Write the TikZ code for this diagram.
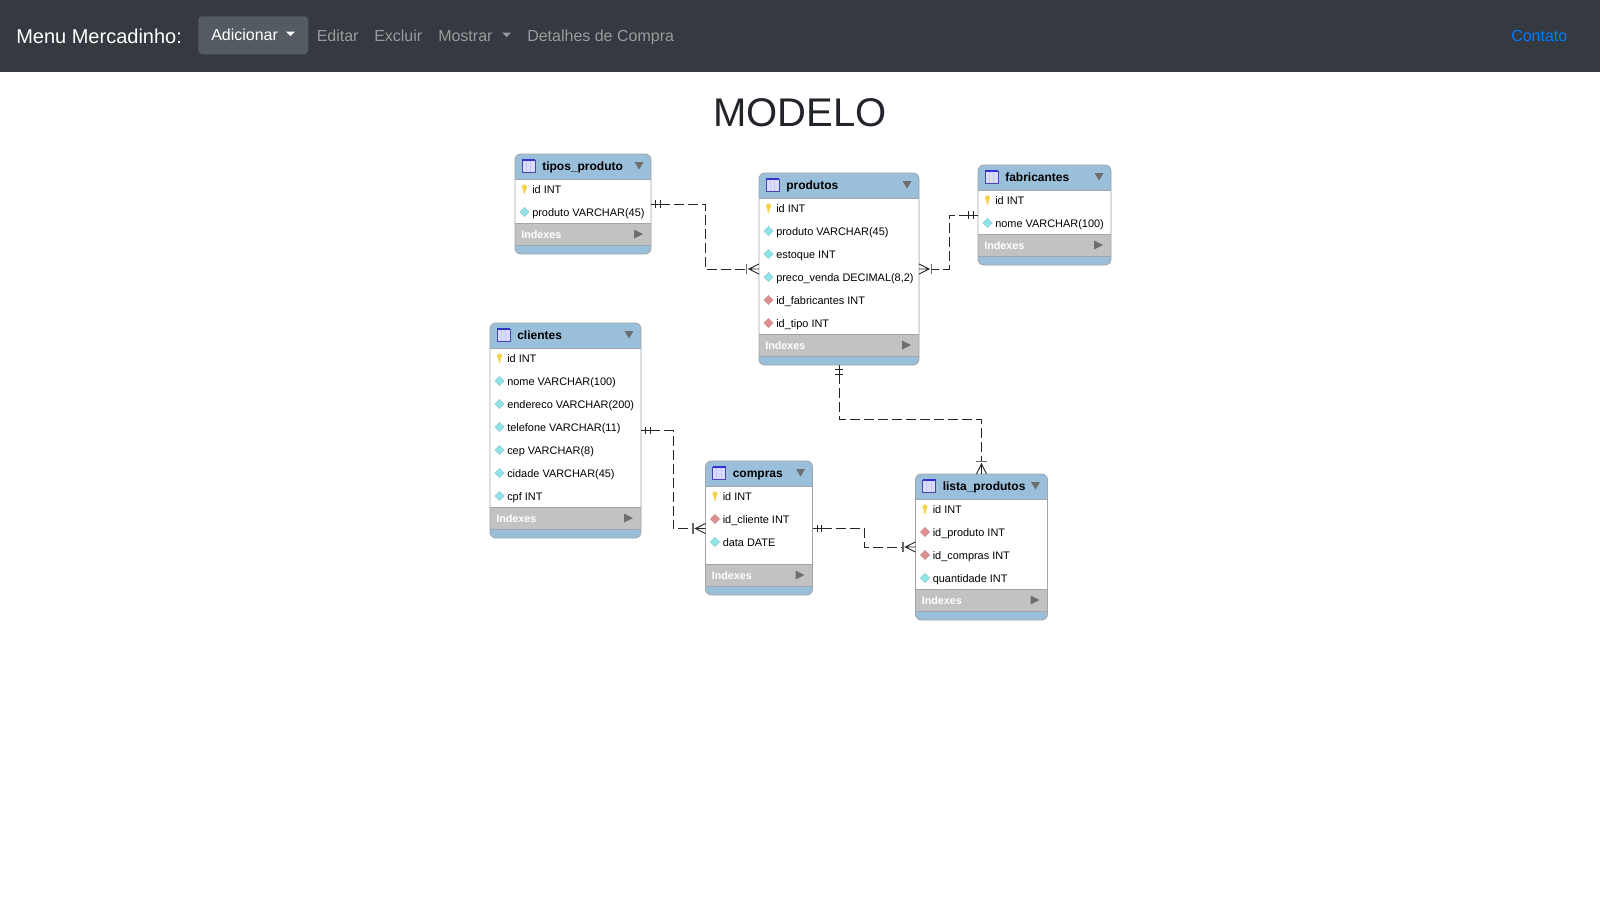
\documentclass[tikz,border=0pt]{standalone}
\usepackage{fontspec}
\setmainfont{Liberation Sans}
\usetikzlibrary{arrows.meta,shapes.geometric}

\definecolor{navdark}{HTML}{343A40}
\definecolor{navbtn}{HTML}{545B62}
\definecolor{navgray}{HTML}{989B9E}
\definecolor{navblue}{HTML}{007BFF}
\definecolor{headblue}{HTML}{9ABFDA}
\definecolor{edgegray}{HTML}{A0A6AB}
\definecolor{bandgray}{HTML}{C2C2C2}
\definecolor{arrowgray}{HTML}{6E6E6E}
\definecolor{keyyellow}{HTML}{F4D24A}
\definecolor{colcyan}{HTML}{8FE3E8}
\definecolor{colred}{HTML}{DD8F8F}
\definecolor{titledark}{HTML}{212529}

% crow's foot ends, sizes in px of the picture (1px = 0.75pt)
\pgfdeclarearrow{
  name=ER one,
  cache=false,
  setup code={
    \pgfarrowssettipend{0pt}
    \pgfarrowssetlineend{-7pt}
    \pgfarrowssetvisualbackend{-7pt}
    \pgfarrowssetbackend{-7.5pt}
  },
  drawing code={
    \pgfsetdash{}{0pt}
    \pgfpathmoveto{\pgfqpoint{0pt}{0pt}}
    \pgfpathlineto{\pgfqpoint{-7pt}{0pt}}
    \pgfpathmoveto{\pgfqpoint{-3.6pt}{-2.7pt}}
    \pgfpathlineto{\pgfqpoint{-3.6pt}{2.7pt}}
    \pgfpathmoveto{\pgfqpoint{-6.8pt}{-2.7pt}}
    \pgfpathlineto{\pgfqpoint{-6.8pt}{2.7pt}}
    \pgfusepathqstroke
  }
}
\pgfdeclarearrow{
  name=ER many,
  cache=false,
  setup code={
    \pgfarrowssettipend{0pt}
    \pgfarrowssetlineend{-9.4pt}
    \pgfarrowssetvisualbackend{-9.4pt}
    \pgfarrowssetbackend{-9.8pt}
  },
  drawing code={
    \pgfsetdash{}{0pt}
    \pgfpathmoveto{\pgfqpoint{0pt}{0pt}}
    \pgfpathlineto{\pgfqpoint{-7.5pt}{0pt}}
    \pgfpathmoveto{\pgfqpoint{0pt}{-3.8pt}}
    \pgfpathlineto{\pgfqpoint{-7.5pt}{0pt}}
    \pgfpathlineto{\pgfqpoint{0pt}{3.8pt}}
    \pgfusepathqstroke
    \pgfsetlinewidth{1.1pt}
    \pgfsetstrokecolor{black!60}
    \pgfpathmoveto{\pgfqpoint{-9.4pt}{-3.8pt}}
    \pgfpathlineto{\pgfqpoint{-9.4pt}{3.8pt}}
    \pgfusepathqstroke
  }
}

\tikzset{
  pkeymark/.pic={
    \fill[keyyellow] (-2.6,-2) arc[start angle=180, end angle=0, radius=2.6*0.75pt] -- (1.3,0.8) -- (0.7,4.5) -- (-0.7,4.5) -- (-1.3,0.8) -- cycle;
  },
  colmark/.pic={
    \node[diamond, fill=colcyan, draw=colcyan!70!gray, line width=0.3pt, inner sep=0pt, minimum size=7pt] {};
  },
  fkmark/.pic={
    \node[diamond, fill=colred, draw=colred!80!gray, line width=0.3pt, inner sep=0pt, minimum size=7pt] {};
  }
}

% name, x, y, width, height of the body, title, columns
\newcommand{\ertable}[7]{
  \begin{scope}[shift={(#2,#3)}]
    \node[tablebox, minimum width=#4*0.75pt, minimum height={(#5+56)*0.75pt}] (#1) at (0,0) {};
    \fill[white] (0,25) rectangle (#4,{25+#5});
    \fill[bandgray] (0,{25+#5}) rectangle (#4,{47+#5});
    \draw[edgegray, line width=0.5pt] (0,25) -- (#4,25) (0,{25+#5}) -- (#4,{25+#5}) (0,{47+#5}) -- (#4,{47+#5});
    \draw[tableedge] (0,0) rectangle (#4,{#5+56});
    % little table icon
    \draw[draw=blue!45!gray, fill=blue!14!white, line width=0.4pt] (7,6) rectangle (20,18);
    \draw[blue!60!gray, line width=0.9pt] (7,6) -- (20,6);
    \draw[blue!22!white, line width=0.3pt] (11,7) -- (11,18) (15.5,7) -- (15.5,18);
    \node[tabletitle] (#1-title) at (27,16) {#6};
    \fill[arrowgray] ({#4-16.5},8) -- ({#4-7.5},8) -- ({#4-12},15.5) -- cycle;
    \foreach \colkind/\coltext [count=\i] in {#7} {
      \pic at (9.5,{35+(\i-1)*23}) {\colkind};
      \node[tablerow] (#1-\i) at (17,{39+(\i-1)*23}) {\coltext};
    }
    \node[tableband] (#1-idx) at (6,{40+#5}) {Indexes};
    \fill[arrowgray] ({#4-17},{31.5+#5}) -- ({#4-8},{36+#5}) -- ({#4-17},{40.5+#5}) -- cycle;
  \end{scope}
}

\begin{document}
\begin{tikzpicture}[
    x=0.75pt, y=-0.75pt,
    navbar/.style={fill=navdark, anchor=north west, minimum width=1200pt, minimum height=54pt, inner sep=0pt, outer sep=0pt},
    navbutton/.style={fill=navbtn, rounded corners=3pt, anchor=north west, minimum width=82.5pt, minimum height=28.5pt, inner sep=0pt},
    navlink/.style={anchor=base west, inner sep=0pt, text=navgray, font=\fontsize{12pt}{14pt}\selectfont},
    tablebox/.style={fill=headblue, rounded corners=4.5pt, anchor=north west, inner sep=0pt, outer sep=0pt},
    tableedge/.style={draw=edgegray, rounded corners=4.5pt, line width=0.65pt},
    tabletitle/.style={anchor=base west, inner sep=0pt, font=\bfseries\fontsize{9pt}{11pt}\selectfont},
    tablerow/.style={anchor=base west, inner sep=0pt, font=\fontsize{8.2pt}{10pt}\selectfont},
    tableband/.style={anchor=base west, inner sep=0pt, text=white, font=\bfseries\fontsize{8.1pt}{10pt}\selectfont},
    relation/.style={draw=black!85, line width=0.7pt, dash pattern=on 7.5pt off 3pt}
]

\useasboundingbox (0,0) rectangle (1600,900);
\fill[white] (0,0) rectangle (1600,900);

% top menu
\node[navbar] (menu) at (0,0) {};
\node[navbutton] (adicionarbtn) at (198,16) {};
\node[navlink, text=white, font=\fontsize{15pt}{18pt}\selectfont] (brand) at (16,43.5) {Menu Mercadinho:};
\node[navlink, text=white] (adicionar) at (211,40) {Adicionar};
\fill[white] (286,31.5) -- (295,31.5) -- (290.5,36) -- cycle;
\node[navlink] (editar) at (316.5,41) {Editar};
\node[navlink] (excluir) at (374,41) {Excluir};
\node[navlink] (mostrar) at (438,41) {Mostrar};
\fill[navgray] (502,32.5) -- (511,32.5) -- (506.5,37) -- cycle;
\node[navlink] (detalhes) at (527,41) {Detalhes de Compra};
\node[navlink, text=navblue] (contato) at (1511,41) {Contato};

% title
\node[text=titledark, font=\fontsize{30pt}{36pt}\selectfont, inner sep=0pt] (modelo) at (800,113) {MODELO};

% tables
\ertable{tipos_produto}{515}{154}{136}{44}{tipos\_produto}{pkeymark/id INT, colmark/produto VARCHAR(45)}
\ertable{produtos}{759}{173}{160}{136}{produtos}{pkeymark/id INT, colmark/produto VARCHAR(45), colmark/estoque INT, colmark/{preco\_venda DECIMAL(8,2)}, fkmark/id\_fabricantes INT, fkmark/id\_tipo INT}
\ertable{fabricantes}{978}{165}{133}{44}{fabricantes}{pkeymark/id INT, colmark/nome VARCHAR(100)}
\ertable{clientes}{490}{323}{151}{159}{clientes}{pkeymark/id INT, colmark/nome VARCHAR(100), colmark/endereco VARCHAR(200), colmark/telefone VARCHAR(11), colmark/cep VARCHAR(8), colmark/cidade VARCHAR(45), colmark/cpf INT}
\ertable{compras}{705.5}{461}{107}{78}{compras}{pkeymark/id INT, fkmark/id\_cliente INT, colmark/data DATE}
\ertable{lista_produtos}{915.5}{474}{132}{90}{lista\_produtos}{pkeymark/id INT, fkmark/id\_produto INT, fkmark/id\_compras INT, colmark/quantidade INT}

% relations
\draw[relation, {ER one}-{ER many}] (tipos_produto.east |- 0,204) -- (705.5,204) -- (705.5,269) -- (produtos.west |- 0,269);
\draw[relation, {ER one}-{ER many}] (fabricantes.west |- 0,215) -- (949,215) -- (949,269) -- (produtos.east |- 0,269);
\draw[relation, {ER one}-{ER many}] (produtos.south) -- (produtos.south |- 0,419) -| (lista_produtos.north);
\draw[relation, {ER one}-{ER many}] (clientes.east |- 0,430.5) -- (673,430.5) -- (673,528.5) -- (compras.west |- 0,528.5);
\draw[relation, {ER one}-{ER many}] (compras.east |- 0,528.5) -- (864.5,528.5) -- (864.5,547) -- (lista_produtos.west |- 0,547);

\end{tikzpicture}
\end{document}
